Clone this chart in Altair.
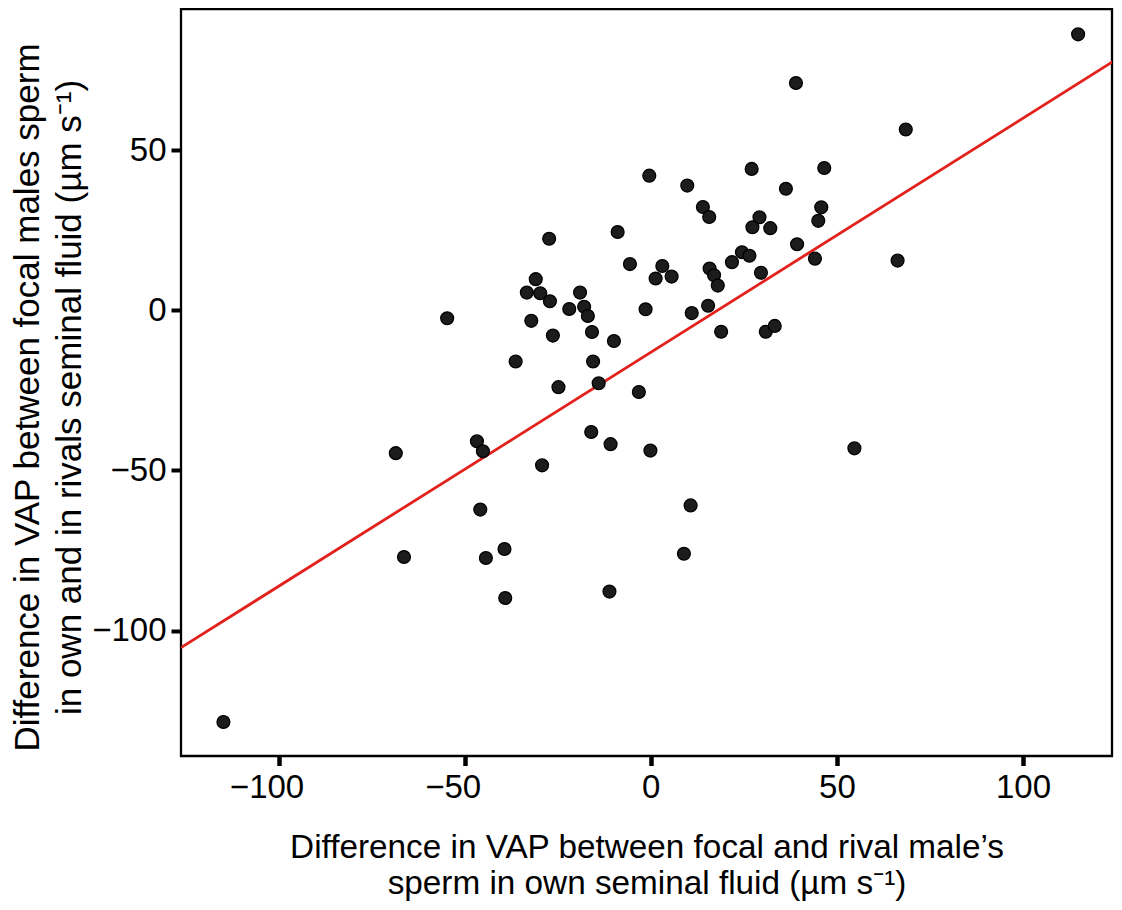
import altair as alt
import pandas as pd

# Difference in VAP between focal and rival male's sperm in own seminal fluid
own_fluid_diff = [
    -0.4, -27.3, -8.9, -5.6, -30.9, -33.3, -29.7, -27.1, -19.0, -21.9, -17.9, -16.9,
    -1.4, -54.7, -32.1, -15.8, -26.3, -9.9, -36.3, -15.5, -24.8, -14.0, -3.2,
    114.8, 39.0, 68.5, 27.1, 46.6, 9.8, 36.3, 14.0, 15.7, 45.8, 45.0, 29.2,
    27.3, 32.1, 39.3, 3.1, 1.3, 5.6, 21.8, 24.5, 26.5, 15.8, 17.0, 18.0,
    29.6, 44.1, 66.3, 11.0, 15.4, 18.9, 30.9, 33.3,
    -114.8, -68.5, -66.3, -46.7, -45.1, -45.8, -44.3, -39.3, -39.1, -29.2,
    -16.0, -10.8, -11.1, -0.1,
    54.7, 10.7, 8.9,
]
# Difference in VAP between focal males sperm in own and in rivals seminal fluid
own_vs_rival_diff = [
    42.0, 22.3, 24.4, 14.4, 9.7, 5.5, 5.3, 2.8, 5.5, 0.4, 1.1, -1.8,
    0.3, -2.5, -3.3, -6.8, -7.9, -9.6, -16.0, -16.0, -24.0, -22.8, -25.5,
    86.1, 70.9, 56.4, 44.1, 44.4, 38.9, 37.9, 32.2, 29.1, 32.1, 27.9, 29.0,
    25.9, 25.6, 20.6, 13.8, 9.9, 10.5, 15.0, 18.1, 17.0, 13.0, 10.9, 7.7,
    11.7, 16.1, 15.5, -0.9, 1.4, -6.7, -6.7, -4.9,
    -128.5, -44.6, -77.0, -40.9, -44.0, -62.2, -77.3, -74.5, -89.8, -48.4,
    -38.0, -41.8, -87.8, -43.8,
    -43.1, -60.9, -76.0,
]

# fitted regression line (ends at the panel edges)
fit_x = [-126.2, 126.1]
fit_y = [-105.3, 79.0]

x_ticks = [-100, -50, 0, 50, 100]
y_ticks = [-100, -50, 0, 50]
x_domain = [-126.2, 123.9]
y_domain = [-139.1, 94.0]

x_title = ["Difference in VAP between focal and rival male\u2019s",
           "sperm in own seminal fluid (\u00b5m s\u207b\u00b9)"]
y_title = ["Difference in VAP between focal males sperm",
           "in own and in rivals seminal fluid (\u00b5m s\u207b\u00b9)"]

points = pd.DataFrame({"x": own_fluid_diff, "y": own_vs_rival_diff})
fit = pd.DataFrame({"x": fit_x, "y": fit_y})

FONT = "Liberation Sans"
minus_expr = "datum.value < 0 ? '\u2212' + abs(datum.value) : '' + datum.value"

x_scale = alt.Scale(domain=x_domain, nice=False, zero=False)
y_scale = alt.Scale(domain=y_domain, nice=False, zero=False)

x_axis = alt.Axis(
    title=x_title, values=x_ticks, labelExpr=minus_expr, grid=False, domain=False,
    tickSize=9.5, tickWidth=4.5, tickColor="black", labelPadding=6,
    labelOffset={"condition": {"test": "datum.value < 0", "value": -12}, "value": 0},
    labelFont=FONT, labelFontSize=33, labelColor="black", labelBaseline="top",
    titleFont=FONT, titleFontSize=33.3, titleFontWeight="normal", titleColor="black",
    titleBaseline="top", titleY=75, titleLineHeight=36,
)
y_axis = alt.Axis(
    title=y_title, values=y_ticks, labelExpr=minus_expr, grid=False, domain=False,
    tickSize=10, tickWidth=4, tickColor="black", labelPadding=5,
    labelFont=FONT, labelFontSize=33, labelColor="black",
    titleFont=FONT, titleFontSize=35, titleFontWeight="normal", titleColor="black",
    titleAngle=270, titleBaseline="top", titleAlign="center",
    titleX=-171, titleY=388, titleLineHeight=42,
)

line = alt.Chart(fit).mark_line(color="#e3211c", strokeWidth=2.8, clip=True).encode(
    x=alt.X("x:Q", scale=x_scale, axis=x_axis),
    y=alt.Y("y:Q", scale=y_scale, axis=y_axis),
)

dots = alt.Chart(points).mark_point(
    shape="circle", filled=True, size=165, fill="#1c1c1c", stroke="black",
    strokeWidth=1.3, opacity=1, clip=True,
).encode(
    x=alt.X("x:Q", scale=x_scale),
    y=alt.Y("y:Q", scale=y_scale),
)

chart = alt.layer(line, dots).properties(
    width=931, height=747,
    autosize=alt.AutoSizeParams(type="none"),
    padding={"left": 173, "top": 1, "right": 2, "bottom": 146},
    background="white",
).configure_view(stroke="black", strokeWidth=2.3)

chart.save("out.html", embed_options={"renderer": "svg", "actions": False})
